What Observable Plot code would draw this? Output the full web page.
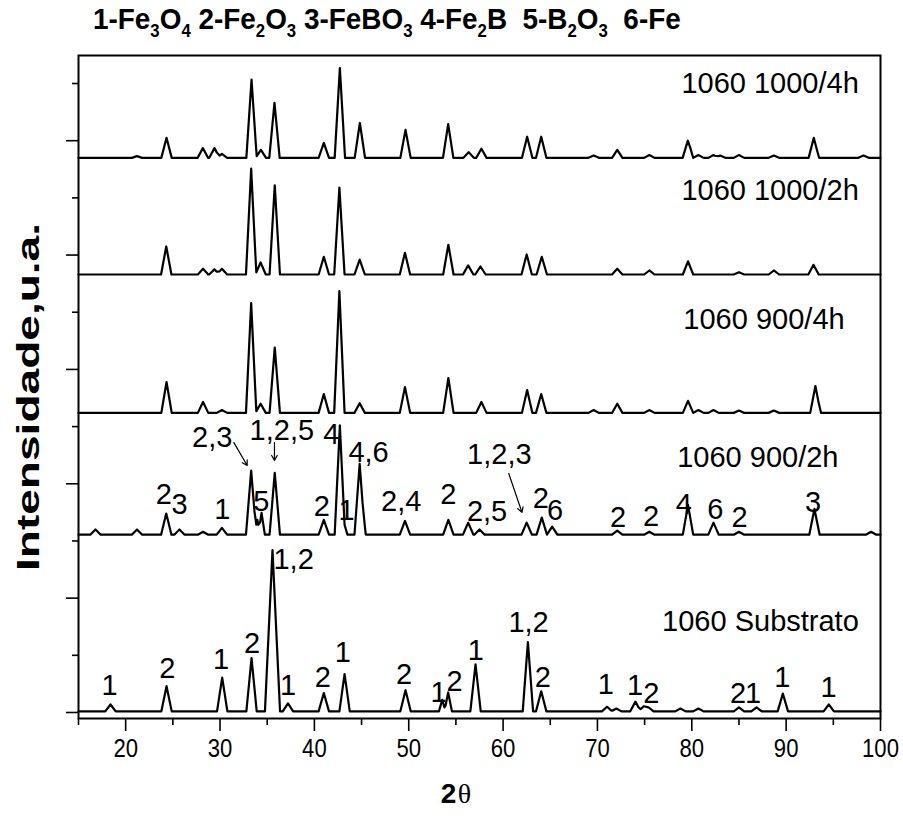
<!DOCTYPE html>
<html>
<head>
<meta charset="utf-8">
<script src="https://cdn.jsdelivr.net/npm/d3@7"></script>
<script src="https://cdn.jsdelivr.net/npm/@observablehq/plot@0.6"></script>
<style>
  body { margin: 0; background: #fff; }
  #wrap { position: relative; width: 903px; height: 816px; background: #fff; }
  #title { position: absolute; left: 93px; top: 2px; font: bold 30px "Liberation Sans", Arial, sans-serif; white-space: pre; color: #000;
           transform: scaleX(0.93); transform-origin: 0 0; }
  #title sub { font-size: 0.6em; vertical-align: -0.42em; line-height: 0; }
  #chart { position: absolute; left: 0; top: 48px; }
</style>
</head>
<body>
<div id="wrap">
  <div id="title">1-Fe<sub>3</sub>O<sub>4</sub> 2-Fe<sub>2</sub>O<sub>3</sub> 3-FeBO<sub>3</sub> 4-Fe<sub>2</sub>B  5-B<sub>2</sub>O<sub>3</sub>  6-Fe</div>
  <div id="chart"></div>
</div>
<script>
// Samples, stacked from top to bottom, with the level of each baseline (a.u.)
const sampleNames = ["1060 1000/4h", "1060 1000/2h", "1060 900/4h", "1060 900/2h", "1060 Substrato"];
const baseLevels = [9.70, 7.66, 5.24, 3.11, 0.02];

// Diffraction peaks per sample: [2θ, peak height above baseline (a.u.), optional half width (°)]
const peaks1000_4h = [[21.2,0.03],[24.33,0.35],[28.18,0.17],[29.41,0.17],[30.2,0.07],[33.34,1.37],[34.33,0.14],
  [35.77,0.96],[41.0,0.26],[42.7,1.57],[44.82,0.61],[49.66,0.49],[54.18,0.59],[56.35,0.10],[57.7,0.16],
  [62.55,0.37],[64.04,0.37],[69.6,0.04],[72.1,0.14],[75.5,0.05],[79.58,0.30],[79.85,0.17,0.3],[80.7,0.05],
  [82.3,0.05],[83.0,0.04],[85.0,0.05],[88.7,0.04],[92.93,0.35],[93.2,0.17,0.3],[98.2,0.04]];
const peaks1000_2h = [[24.3,0.49],[28.2,0.10],[29.4,0.09],[30.2,0.10],[33.3,1.85],[34.3,0.21],[35.8,1.56],
  [41.0,0.31],[42.65,1.52],[44.8,0.26],[49.6,0.38],[54.2,0.52],[56.3,0.16],[57.6,0.14],[62.5,0.35],[64.1,0.31],
  [72.1,0.10],[75.5,0.07],[79.6,0.23],[85.0,0.04],[88.7,0.07],[92.9,0.17]];
const peaks900_4h = [[24.33,0.54],[28.2,0.19],[30.2,0.05],[33.3,1.92],[34.3,0.16],[35.8,1.14],[41.0,0.33],
  [42.65,2.13],[44.8,0.17],[49.6,0.45],[54.2,0.61],[57.7,0.19],[62.55,0.40],[64.04,0.33],[69.6,0.05],
  [72.1,0.16],[75.5,0.05],[79.6,0.21],[80.7,0.05],[82.3,0.05],[85.0,0.04],[88.7,0.04],[93.1,0.47],[93.4,0.21,0.3]];
const peaks900_2h = [[16.8,0.09],[21.2,0.09],[24.3,0.37],[25.7,0.09],[28.2,0.05],[30.2,0.12],[33.3,1.12],
  [33.95,0.26,0.3],[34.4,0.38,0.35],[35.8,1.08],[41.0,0.26],[42.7,1.91],[43.2,0.17,0.3],[44.8,1.24],
  [45.1,0.52,0.35],[49.6,0.24],[54.2,0.26],[56.3,0.21],[57.5,0.09],[62.5,0.21],[64.1,0.30],[65.2,0.14],
  [72.1,0.07],[75.5,0.05],[79.6,0.52],[82.3,0.21],[85.0,0.05],[93.0,0.45],[99.0,0.05]];
const peaksSubstrate = [[18.39,0.12],[24.33,0.44],[30.23,0.59],[33.34,0.93],[35.56,2.82,0.8],[37.2,0.14],
  [41.0,0.32],[43.2,0.65],[49.66,0.37],[53.55,0.20,0.35],[54.18,0.33,0.4],[57.08,0.82],[62.63,1.21],
  [64.04,0.35],[71.02,0.08],[72.0,0.05],[74.03,0.17],[74.9,0.09],[75.4,0.07],[78.8,0.05],[80.7,0.05],
  [85.0,0.07],[86.86,0.07],[89.65,0.31],[94.52,0.12]];
const peakLists = [peaks1000_4h, peaks1000_2h, peaks900_4h, peaks900_2h, peaksSubstrate];

// Sample names: [2θ at the end of the text, level of the text baseline]
const sampleLabelAt = [[97.7, 10.83], [97.7, 8.97], [96.2, 6.71], [95.55, 4.30], [97.7, 1.43]];

// Phase indexing: [2θ, level of text baseline, phase numbers]
const labels900_2h = [[24.04,3.65,"2"],[25.72,3.47,"3"],[30.23,3.39,"1"],[29.17,4.64,"2,3"],[34.38,3.53,"5"],
  [36.55,4.76,"1,2,5"],[40.8,3.44,"2"],[41.8,4.70,"4"],[43.4,3.36,"1"],[45.74,4.38,"4,6"],[49.2,3.53,"2,4"],
  [54.2,3.65,"2"],[58.3,3.35,"2,5"],[59.6,4.35,"1,2,3"],[64.0,3.57,"2"],[65.5,3.36,"6"],[72.18,3.25,"2"],
  [75.68,3.27,"2"],[79.16,3.47,"4"],[82.5,3.39,"6"],[85.06,3.25,"2"],[92.85,3.50,"3"]];
const labelsSubstrate = [[18.3,0.30,"1"],[24.4,0.61,"2"],[30.1,0.76,"1"],[33.4,1.04,"2"],[37.8,2.51,"1,2"],
  [37.2,0.30,"1"],[40.9,0.44,"2"],[43.0,0.88,"1"],[49.5,0.50,"2"],[53.15,0.18,"1"],[54.85,0.38,"2"],
  [57.1,0.91,"1"],[62.7,1.40,"1,2"],[64.2,0.44,"2"],[70.9,0.33,"1"],[74.0,0.30,"1"],[75.7,0.16,"2"],
  [84.9,0.16,"2"],[86.5,0.16,"1"],[89.6,0.44,"1"],[94.5,0.27,"1"]];
// Arrows pointing at overlapping reflections: [2θ from, level from, 2θ to, level to]
const arrows900_2h = [[31.47,4.72,32.88,4.32],[35.77,4.72,35.77,4.41],[60.6,4.18,62.0,3.50]];

const majorX = [20, 30, 40, 50, 60, 70, 80, 90, 100];
const minorX = [15, 25, 35, 45, 55, 65, 75, 85, 95];
const majorY = [0, 2, 4, 6, 8, 10];
const minorY = [1, 3, 5, 7, 9, 11];

// Each reflection is drawn as a triangle on the sample baseline; the trace is their upper envelope.
function traceRows(name, base, peaks) {
  const xs = new Set([15, 100]);
  for (const [c, , w = 0.55] of peaks) { xs.add(c - w); xs.add(c); xs.add(c + w); }
  return [...xs].filter(x => x >= 15 && x <= 100).sort((a, b) => a - b).map(x => ({
    sample: name,
    theta: x,
    intensity: base + d3.max(peaks, ([c, h, w = 0.55]) => h * Math.max(0, 1 - Math.abs(x - c) / w))
  }));
}
const traces = sampleNames.flatMap((name, i) => traceRows(name, baseLevels[i], peakLists[i]));
const sampleLabels = sampleNames.map((name, i) => ({text: name, theta: sampleLabelAt[i][0], level: sampleLabelAt[i][1]}));
const phaseLabels = [...labels900_2h, ...labelsSubstrate].map(([theta, level, text]) => ({theta, level, text}));
const arrowRows = arrows900_2h.map(([x1, y1, x2, y2]) => ({x1, y1, x2, y2}));

const chart = Plot.plot({
  width: 903,
  height: 768,
  marginTop: 7,
  marginBottom: 98,
  marginLeft: 78,
  marginRight: 23,
  style: {fontFamily: "'Liberation Sans', Arial, sans-serif", color: "#000", background: "#fff"},
  x: {domain: [15, 100], label: null},
  y: {domain: [-0.105, 11.49], label: null},
  marks: [
    Plot.line(traces, {x: "theta", y: "intensity", z: "sample", stroke: "#000", strokeWidth: 2.2, strokeLinejoin: "round"}),
    Plot.text(sampleLabels, {x: "theta", y: "level", text: "text", textAnchor: "end", lineAnchor: "bottom", fontSize: 29, fill: "#000"}),
    Plot.text(phaseLabels, {x: "theta", y: "level", text: "text", lineAnchor: "bottom", fontSize: 29, fill: "#000"}),
    Plot.arrow(arrowRows, {x1: "x1", y1: "y1", x2: "x2", y2: "y2", stroke: "#000", strokeWidth: 1.2, headLength: 7}),
    Plot.axisX({ticks: majorX, tickSize: 13, tickPadding: 7, fontSize: 26, strokeWidth: 1.6, tickFormat: d => String(d)}),
    Plot.axisX({ticks: minorX, tickSize: 7, strokeWidth: 1.6, tickFormat: () => ""}),
    Plot.axisY({ticks: majorY, tickSize: 12, strokeWidth: 1.6, tickFormat: () => ""}),
    Plot.axisY({ticks: minorY, tickSize: 6, strokeWidth: 1.6, tickFormat: () => ""}),
    Plot.frame({stroke: "#000", strokeWidth: 2}),
    Plot.text(["Intensidade,u.a."], {frameAnchor: "left", textAnchor: "middle", rotate: -90, dx: -50, dy: 10, fontSize: 32, fontWeight: "bold", fill: "#000"}),
    Plot.text(["2"], {frameAnchor: "bottom", dx: -31, dy: 84, fontSize: 28, fontWeight: "bold", fill: "#000"}),
    Plot.text(["θ"], {frameAnchor: "bottom", dx: -15, dy: 84, fontSize: 28, fontFamily: "'Liberation Serif', serif", fill: "#000"})
  ]
});
// Axis lettering is tall and narrow
const svg = d3.select(chart);
svg.selectAll("text")
  .filter(function() { return this.textContent === "Intensidade,u.a."; })
  .attr("textLength", 348)
  .attr("lengthAdjust", "spacingAndGlyphs");
svg.selectAll("text")
  .filter(function() { return majorX.map(String).includes(this.textContent); })
  .each(function() {
    const t = this.getAttribute("transform");
    if (t) this.setAttribute("transform", t + " scale(0.85,1)");
    else {
      const x = parseFloat(this.getAttribute("x")) || 0;
      this.setAttribute("transform", `translate(${x * 0.15},0) scale(0.85,1)`);
    }
  });
document.getElementById("chart").append(chart);
</script>
</body>
</html>
